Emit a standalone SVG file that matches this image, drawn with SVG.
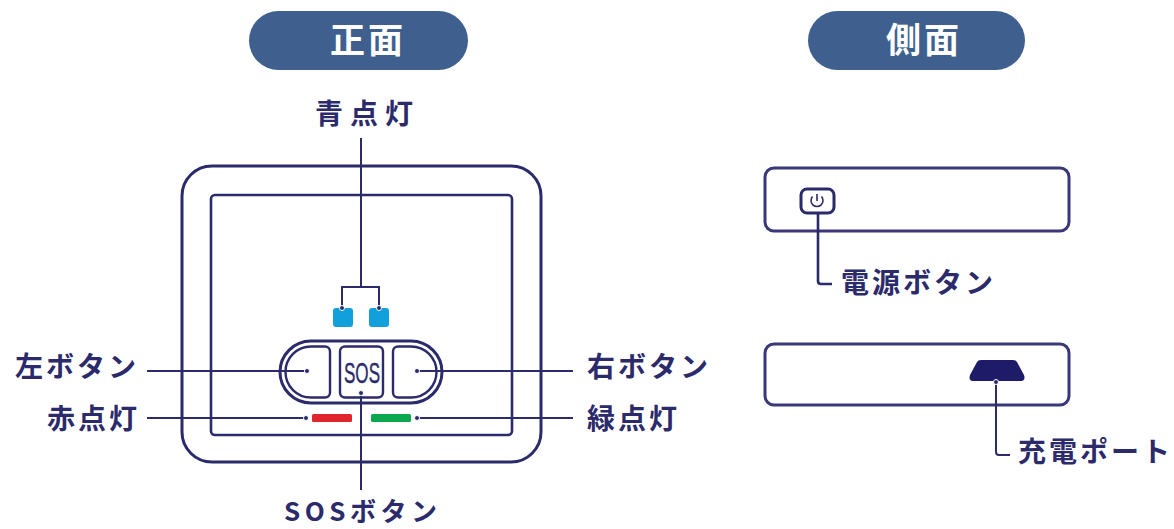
<svg xmlns="http://www.w3.org/2000/svg" width="1174" height="529" viewBox="0 0 1174 529">
<style>
.o{fill:none;stroke:#2b2a6b;stroke-width:2.6}
.s{fill:none;stroke:#3a3878;stroke-width:3}
.b{fill:none;stroke:#2b2a6b;stroke-width:2.4}
.t{fill:#2b2a6b;font-family:"Noto Sans CJK JP","Noto Sans",sans-serif;font-weight:700;font-size:28px;letter-spacing:3px}
.h{fill:#fff;font-family:"Noto Sans CJK JP",sans-serif;font-weight:700;font-size:35px;text-anchor:middle;letter-spacing:3px}
.c{fill:none;stroke:#2b2a6b;stroke-width:2}
.d{fill:#2b2a6b;stroke:#fff;stroke-width:1}
</style>
<rect width="1174" height="529" fill="#fff"/>
<g id="header-front"><rect x="249" y="11" width="219" height="59" rx="29.5" fill="#3f5f8f"/><text class="h" x="368" y="53">正面</text></g>
<g id="header-side"><rect x="808" y="11" width="217" height="59" rx="29.5" fill="#3f5f8f"/><text class="h" x="924" y="53">側面</text></g>
<g id="device-front">
<rect class="o" x="182" y="166" width="359" height="296" rx="30" style="stroke-width:3"/>
<rect class="o" x="211" y="195" width="301" height="240" rx="4"/>
</g>
<g id="led-blue"><rect x="333" y="308" width="20" height="19" rx="3" fill="#12a0dc"/><rect x="369" y="308" width="20" height="19" rx="3" fill="#12a0dc"/></g>
<g id="button-panel">
<rect class="o" x="280" y="341" width="162" height="62" rx="31" style="stroke-width:3"/>
<path class="b" d="M311 346.500a25.500 25.500 0 0 0 0 51H325a5 5 0 0 0 5-5V351.500a5 5 0 0 0-5-5Z"/>
<rect class="b" x="340" y="346.500" width="43" height="51" rx="5"/>
<path class="b" d="M398 346.500H411a25.500 25.500 0 0 1 0 51H398a5 5 0 0 1-5-5V351.500a5 5 0 0 1 5-5Z"/>
<text x="362" y="383" text-anchor="middle" font-family="'Liberation Sans',sans-serif" font-size="29" fill="#2b2a6b" stroke="#2b2a6b" stroke-width="0.4" textLength="36" lengthAdjust="spacingAndGlyphs">SOS</text>
</g>
<g id="led-red"><rect x="312" y="414" width="40" height="8" rx="1.500" fill="#e0262c"/></g>
<g id="led-green"><rect x="371" y="414" width="40" height="8" rx="1.500" fill="#0da84d"/></g>
<g id="device-side-top">
<rect class="s" x="765" y="168" width="304" height="63" rx="9"/>
<rect class="o" x="801" y="189" width="33" height="24" rx="6" style="stroke-width:3"/>
<path d="M812.500 196.500a6 6 0 1 0 9 0M817 194v7" fill="none" stroke="#2b2a6b" stroke-width="1.600"/>
</g>
<g id="device-side-bottom">
<rect class="s" x="765" y="344" width="304" height="61" rx="9"/>
<path d="M981 360H1013Q1016 360 1017 362L1024 375Q1026 381 1020 381H974Q968 381 970 375L977 362Q978 360 981 360Z" fill="#1e1b68"/>
</g>
<g id="connectors">
<path class="c" d="M361 138V287M342 308V287H379V308"/>
<circle class="d" cx="342" cy="308" r="2.500"/><circle class="d" cx="379" cy="308" r="2.500"/>
<path class="c" d="M147 371H307"/><circle class="d" cx="307" cy="371" r="2.500"/>
<path class="c" d="M417 371H573"/><circle class="d" cx="417" cy="371" r="2.500"/>
<path class="c" d="M147 418H306"/><circle class="d" cx="306" cy="418" r="2.500"/>
<path class="c" d="M417 418H573"/><circle class="d" cx="417" cy="418" r="2.500"/>
<path class="c" d="M361 393V490"/><circle class="d" cx="361" cy="393" r="2.500"/>
<path class="c" d="M818 213V281Q818 284 821 284H832" style="stroke-width:2.600"/>
<path class="c" d="M996 382V452Q996 455 999 455H1010"/><circle class="d" cx="996" cy="382" r="2.500"/>
</g>
<g id="labels">
<text class="t" x="315" y="124" style="letter-spacing:7px">青点灯</text>
<text class="t" x="15" y="377">左ボタン</text>
<text class="t" x="47" y="429">赤点灯</text>
<text class="t" x="587" y="377">右ボタン</text>
<text class="t" x="587" y="429">緑点灯</text>
<text class="t" x="284" y="521" style="font-size:26px;letter-spacing:4.5px">SOSボタン</text>
<text class="t" x="841" y="293">電源ボタン</text>
<text class="t" x="1018" y="462">充電ポート</text>
</g>
</svg>
